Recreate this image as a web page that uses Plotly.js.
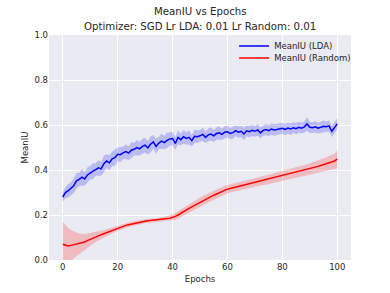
<!DOCTYPE html>
<html>
<head>
<meta charset="utf-8">
<script src="https://cdn.plot.ly/plotly-3.0.1.min.js"></script>
<style>html,body{margin:0;padding:0;background:#fff;}#chart{width:390px;height:293px;}</style>
</head>
<body>
<div id="chart"></div>
<script>
const epochs = Array.from({length: 101}, (_, i) => i);

const ldaMean = [
0.280,0.300,0.308,0.318,0.330,0.352,0.358,0.368,0.360,0.378,
0.388,0.395,0.402,0.410,0.405,0.428,0.440,0.432,0.450,0.455,
0.470,0.468,0.476,0.482,0.475,0.488,0.492,0.500,0.494,0.505,
0.510,0.498,0.515,0.525,0.505,0.520,0.528,0.522,0.532,0.538,
0.540,0.518,0.545,0.535,0.548,0.540,0.545,0.530,0.550,0.548,
0.552,0.558,0.545,0.556,0.560,0.552,0.562,0.565,0.558,0.568,
0.570,0.562,0.566,0.575,0.568,0.572,0.560,0.574,0.570,0.576,
0.572,0.578,0.565,0.576,0.580,0.575,0.582,0.578,0.580,0.584,
0.585,0.580,0.586,0.582,0.588,0.584,0.590,0.586,0.592,0.605,
0.590,0.588,0.592,0.586,0.590,0.594,0.592,0.596,0.572,0.590,0.605
];
const ldaStd = [
0.020,0.025,0.030,0.028,0.032,0.035,0.030,0.038,0.030,0.034,
0.030,0.036,0.028,0.035,0.030,0.038,0.030,0.034,0.032,0.036,
0.030,0.034,0.028,0.033,0.030,0.036,0.028,0.035,0.030,0.034,
0.032,0.030,0.036,0.030,0.034,0.028,0.033,0.030,0.034,0.030,
0.030,0.028,0.032,0.026,0.030,0.028,0.032,0.026,0.030,0.028,
0.026,0.030,0.025,0.028,0.030,0.026,0.028,0.030,0.025,0.028,
0.026,0.025,0.028,0.024,0.026,0.025,0.028,0.024,0.026,0.025,
0.024,0.026,0.025,0.024,0.026,0.024,0.025,0.026,0.024,0.025,
0.024,0.025,0.024,0.026,0.024,0.025,0.026,0.024,0.026,0.030,
0.025,0.024,0.026,0.024,0.025,0.026,0.024,0.025,0.025,0.024,0.025
];

const randMean = [
0.070,0.066,0.062,0.065,0.068,0.070,0.072,0.076,0.080,0.086,
0.092,0.097,0.102,0.107,0.112,0.117,0.122,0.127,0.132,0.137,
0.142,0.146,0.150,0.154,0.157,0.160,0.163,0.166,0.168,0.170,
0.172,0.174,0.175,0.176,0.177,0.178,0.180,0.182,0.184,0.186,
0.189,0.194,0.200,0.208,0.215,0.222,0.229,0.236,0.243,0.250,
0.257,0.264,0.270,0.276,0.282,0.288,0.294,0.300,0.306,0.311,
0.315,0.318,0.321,0.324,0.327,0.330,0.332,0.335,0.338,0.341,
0.344,0.347,0.350,0.353,0.356,0.359,0.362,0.365,0.368,0.371,
0.374,0.377,0.380,0.383,0.386,0.389,0.392,0.395,0.398,0.401,
0.404,0.408,0.412,0.416,0.420,0.424,0.428,0.432,0.436,0.440,0.448
];
const randStd = [
0.100,0.090,0.080,0.070,0.060,0.052,0.046,0.040,0.036,0.032,
0.028,0.025,0.022,0.020,0.018,0.016,0.015,0.014,0.013,0.012,
0.012,0.011,0.011,0.010,0.010,0.010,0.010,0.009,0.009,0.009,
0.009,0.009,0.008,0.008,0.008,0.008,0.009,0.010,0.011,0.012,
0.013,0.015,0.017,0.018,0.019,0.020,0.020,0.021,0.021,0.021,
0.021,0.021,0.020,0.020,0.020,0.020,0.019,0.019,0.019,0.018,
0.018,0.018,0.018,0.018,0.018,0.019,0.019,0.019,0.019,0.020,
0.020,0.020,0.020,0.020,0.021,0.021,0.021,0.021,0.022,0.022,
0.022,0.022,0.023,0.023,0.023,0.024,0.024,0.024,0.025,0.025,
0.025,0.026,0.026,0.027,0.028,0.028,0.029,0.030,0.031,0.032,0.040
];

const xTicks = [0, 20, 40, 60, 80, 100];
const yTicks = [0.0, 0.2, 0.4, 0.6, 0.8, 1.0];
const yTickLabels = ['0.0', '0.2', '0.4', '0.6', '0.8', '1.0'];
const titleLines = ['MeanIU vs Epochs', 'Optimizer: SGD Lr LDA: 0.01 Lr Random: 0.01'];
const seriesNames = ['MeanIU (LDA)', 'MeanIU (Random)'];

const lo = (m, s) => m.map((v, i) => v - s[i]);
const hi = (m, s) => m.map((v, i) => v + s[i]);

const traces = [
  {x: epochs, y: lo(ldaMean, ldaStd), mode: 'lines', line: {width: 0, color: 'rgba(0,0,255,0)'}, showlegend: false, hoverinfo: 'skip'},
  {x: epochs, y: hi(ldaMean, ldaStd), mode: 'lines', line: {width: 0, color: 'rgba(0,0,255,0)'}, fill: 'tonexty', fillcolor: 'rgba(0,0,255,0.2)', showlegend: false, hoverinfo: 'skip'},
  {x: epochs, y: lo(randMean, randStd), mode: 'lines', line: {width: 0, color: 'rgba(255,0,0,0)'}, showlegend: false, hoverinfo: 'skip'},
  {x: epochs, y: hi(randMean, randStd), mode: 'lines', line: {width: 0, color: 'rgba(255,0,0,0)'}, fill: 'tonexty', fillcolor: 'rgba(255,0,0,0.2)', showlegend: false, hoverinfo: 'skip'},
  {x: epochs, y: ldaMean, mode: 'lines', name: seriesNames[0], legend: 'legend', line: {color: '#0000FF', width: 1.5}},
  {x: epochs, y: randMean, mode: 'lines', name: seriesNames[1], legend: 'legend2', line: {color: '#FF0000', width: 1.5}}
];

const txt = {family: 'DejaVu Sans', color: '#262626'};
const legendBase = {
  xanchor: 'left', yanchor: 'middle', x: 0.613,
  bgcolor: 'rgba(0,0,0,0)', borderwidth: 0,
  font: {family: 'DejaVu Sans', size: 8.5, color: '#262626'}
};

const layout = {
  width: 390, height: 293,
  margin: {l: 49, r: 39, t: 35, b: 33},
  paper_bgcolor: '#FFFFFF',
  plot_bgcolor: '#EAEAF2',
  font: txt,
  annotations: [
    {text: titleLines[0], xref: 'paper', yref: 'paper', x: 0.5, y: 1.106, xanchor: 'center', yanchor: 'middle', showarrow: false, font: {family: 'DejaVu Sans', size: 10.2, color: '#262626'}},
    {text: titleLines[1], xref: 'paper', yref: 'paper', x: 0.5, y: 1.036, xanchor: 'center', yanchor: 'middle', showarrow: false, font: {family: 'DejaVu Sans', size: 10.2, color: '#262626'}}
  ],
  xaxis: {
    range: [-5, 105],
    tickvals: xTicks,
    ticktext: xTicks.map(String),
    showgrid: true, gridcolor: '#FFFFFF', gridwidth: 1,
    zeroline: false, showline: false, ticks: '',
    tickfont: {family: 'DejaVu Sans', size: 8.5, color: '#262626'},
    title: {text: 'Epochs', font: {family: 'DejaVu Sans', size: 8.5, color: '#262626'}, standoff: 5}
  },
  yaxis: {
    range: [0, 1],
    tickvals: yTicks,
    ticktext: yTickLabels,
    showgrid: true, gridcolor: '#FFFFFF', gridwidth: 1,
    zeroline: false, showline: false, ticks: '',
    tickfont: {family: 'DejaVu Sans', size: 8.5, color: '#262626'},
    title: {text: 'MeanIU', font: {family: 'DejaVu Sans', size: 8.5, color: '#262626'}, standoff: 4}
  },
  legend: Object.assign({}, legendBase, {y: 0.951}),
  legend2: Object.assign({}, legendBase, {y: 0.898}),
  showlegend: true
};

Plotly.newPlot('chart', traces, layout, {staticPlot: true, displayModeBar: false});
</script>
</body>
</html>
